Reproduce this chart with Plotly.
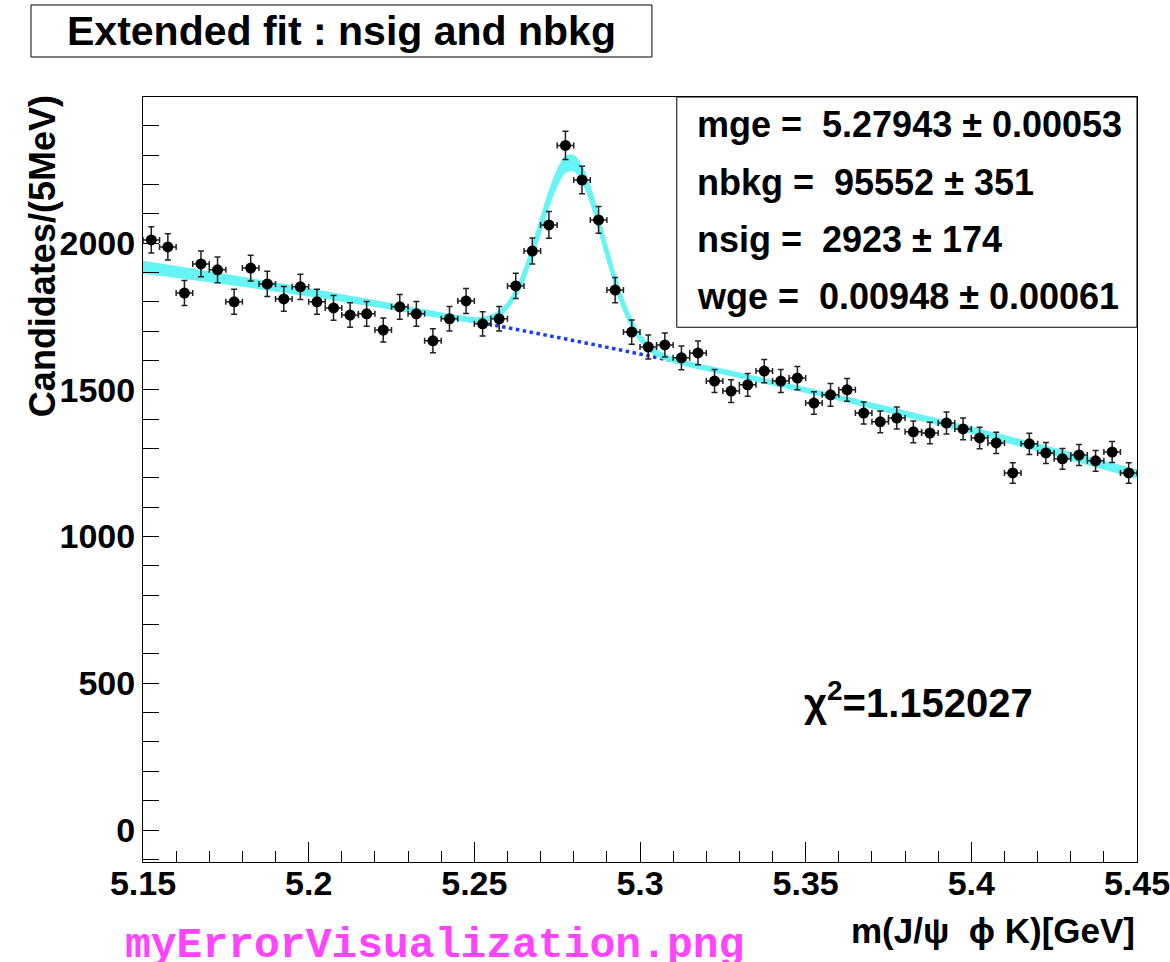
import numpy as np
import plotly.graph_objects as go

# ---------------- data ----------------
x_low = 5.15
bin_width = 0.005
counts = [2011, 1987, 1830, 1929, 1909, 1800, 1915, 1861, 1810, 1851,
          1800, 1779, 1755, 1759, 1704, 1783, 1759, 1667, 1742, 1803,
          1725, 1742, 1854, 1973, 2062, 2333, 2215, 2079, 1840, 1697,
          1646, 1653, 1609, 1626, 1530, 1496, 1517, 1564, 1530, 1540,
          1455, 1483, 1500, 1421, 1391, 1404, 1357, 1353, 1387, 1367,
          1336, 1319, 1217, 1316, 1285, 1265, 1278, 1258, 1288, 1217]
bin_centers = [round(x_low + bin_width * (i + 0.5), 4) for i in range(len(counts))]
count_err = list(np.sqrt(counts))

# total fit curve (centre of the cyan band) and band half-width
fit_x = [5.15, 5.175, 5.20, 5.225,
         5.2400, 5.2425, 5.2450, 5.2475, 5.2500, 5.2525, 5.2550, 5.2575,
         5.2600, 5.2625, 5.2650, 5.2675, 5.2700, 5.2725, 5.2750, 5.2775,
         5.2800, 5.2825, 5.2850, 5.2875, 5.2900, 5.2925, 5.2950, 5.2975,
         5.3000, 5.3025, 5.3050, 5.3075, 5.3100, 5.3125, 5.3150, 5.3175,
         5.3200, 5.325, 5.35, 5.375, 5.40, 5.425, 5.45]
fit_y = [1918, 1877, 1832, 1784,
         1754, 1749, 1745, 1741, 1738, 1739, 1745, 1759,
         1787, 1830, 1892, 1971, 2060, 2149, 2222, 2267,
         2272, 2236, 2165, 2071, 1969, 1872, 1790, 1726,
         1679, 1647, 1626, 1612, 1602, 1594, 1587, 1580,
         1574, 1562, 1499, 1432, 1362, 1289, 1213]
fit_hw = [22, 18, 14, 11,
          10, 10, 10, 10, 10, 10, 11, 12,
          14, 18, 24, 28, 31, 32, 31, 29,
          28, 29, 31, 32, 31, 28, 24, 19,
          15, 13, 12, 11, 10, 10, 10, 10,
          10, 10, 10, 11, 12, 14, 16]

# background component (blue dotted)
bkg_x = [5.15, 5.175, 5.20, 5.225, 5.25, 5.275, 5.30, 5.325, 5.35, 5.375, 5.40, 5.425, 5.45]
bkg_y = [1918, 1877, 1832, 1784, 1733, 1679, 1622, 1562, 1499, 1432, 1362, 1289, 1213]

x_tick_vals = [5.15, 5.20, 5.25, 5.30, 5.35, 5.40, 5.45]
x_tick_text = ["5.15", "5.2", "5.25", "5.3", "5.35", "5.4", "5.45"]
y_tick_vals = [0, 500, 1000, 1500, 2000]
y_tick_text = ["0", "500", "1000", "1500", "2000"]

param_lines = ["mge =  5.27943 \u00b1 0.00053",
               "nbkg =  95552 \u00b1 351",
               "nsig =  2923 \u00b1 174",
               "wge =  0.00948 \u00b1 0.00061"]

# ---------------- figure ----------------
FONT = "Liberation Sans, Arial, Helvetica, sans-serif"
fig = go.Figure()

fig.add_trace(go.Scatter(x=bkg_x, y=bkg_y, mode="lines",
                         line=dict(color="#1a3cff", width=3.5, dash="dot", shape="spline"),
                         hoverinfo="skip", showlegend=False))

lower = [y - h for y, h in zip(fit_y, fit_hw)]
upper = [y + h for y, h in zip(fit_y, fit_hw)]
fig.add_trace(go.Scatter(x=fit_x, y=lower, mode="lines",
                         line=dict(width=0, shape="spline"), hoverinfo="skip", showlegend=False))
fig.add_trace(go.Scatter(x=fit_x, y=upper, mode="lines", fill="tonexty",
                         fillcolor="#66f4f4",
                         line=dict(width=0, shape="spline"), hoverinfo="skip", showlegend=False))

fig.add_trace(go.Scatter(x=bin_centers, y=counts, mode="markers",
                         marker=dict(color="black", size=11),
                         error_y=dict(type="data", array=count_err, color="#222222",
                                      thickness=1.5, width=3),
                         error_x=dict(type="constant", value=bin_width / 2, color="#222222",
                                      thickness=1.5, width=3),
                         showlegend=False))

# parameter box
fig.add_shape(type="rect", xref="paper", yref="paper", x0=0.537, x1=1.0, y0=0.699, y1=1.0,
              line=dict(color="black", width=1), fillcolor="white", layer="below")
row_y = [0.9647, 0.8876, 0.8131, 0.7386]
for txt, yy in zip(param_lines, row_y):
    fig.add_annotation(xref="paper", yref="paper", x=0.555, y=yy, text=txt, showarrow=False,
                       xanchor="left", yanchor="middle",
                       font=dict(family=FONT, size=36, color="black", weight="bold"))

# title box
fig.add_shape(type="rect", xref="paper", yref="paper", x0=-0.1127, x1=0.512, y0=1.0523, y1=1.1203,
              line=dict(color="black", width=1), fillcolor="white")
fig.add_annotation(xref="paper", yref="paper", x=0.2002, y=1.0863,
                   text="Extended fit : nsig and nbkg", showarrow=False,
                   xanchor="center", yanchor="middle",
                   font=dict(family=FONT, size=41, color="black", weight="bold"))

# chi2
fig.add_annotation(xref="paper", yref="paper", x=0.663, y=0.2118,
                   text="\u03c7<sup>2</sup>=1.152027", showarrow=False,
                   xanchor="left", yanchor="middle",
                   font=dict(family=FONT, size=40, color="black", weight="bold"))

# axis titles
fig.add_annotation(xref="paper", yref="paper", x=1.0, y=-0.0889,
                   text="m(J/\u03c8  \u03d5 K)[GeV]", showarrow=False,
                   xanchor="right", yanchor="middle",
                   font=dict(family=FONT, size=35, color="black", weight="bold"))
fig.add_annotation(xref="paper", yref="paper", x=-0.1016, y=0.792,
                   text="Candidates/(5MeV)", showarrow=False, textangle=-90,
                   xanchor="center", yanchor="middle",
                   font=dict(family=FONT, size=36, color="black", weight="bold"))

# file-name label
fig.add_annotation(xref="paper", yref="paper", x=-0.0201, y=-0.1085,
                   text="myErrorVisualization.png", showarrow=False,
                   xanchor="left", yanchor="middle",
                   font=dict(family="Liberation Mono, Courier New, monospace", size=43,
                             color="#ff44ff", weight="bold"))

tickfont = dict(family=FONT, size=34, color="black", weight="bold")
fig.update_xaxes(range=[5.15, 5.45], tickmode="array", tickvals=x_tick_vals, ticktext=x_tick_text,
                 ticks="inside", ticklen=20, tickwidth=1, tickcolor="black",
                 minor=dict(tick0=5.15, dtick=0.01, ticks="inside", ticklen=11, tickcolor="black"),
                 showline=True, linecolor="black", linewidth=1, mirror=True,
                 showgrid=False, zeroline=False, tickfont=tickfont,
                 ticklabeloverflow="allow", ticklabelstandoff=-9)
fig.update_yaxes(range=[-109, 2498], tickmode="array", tickvals=y_tick_vals, ticktext=y_tick_text,
                 ticks="inside", ticklen=16, tickwidth=1, tickcolor="black",
                 minor=dict(tick0=0, dtick=100, ticks="inside", ticklen=16, tickcolor="black"),
                 showline=True, linecolor="black", linewidth=1, mirror=True,
                 showgrid=False, zeroline=False, tickfont=tickfont)

fig.update_layout(width=1170, height=962,
                  margin=dict(l=143, r=33, t=97, b=100, pad=0, autoexpand=False),
                  paper_bgcolor="white", plot_bgcolor="white",
                  showlegend=False)

fig.write_html("out.html",
               config={"displayModeBar": False},
               post_script="document.body.style.margin='0px';"
                           "document.body.style.overflow='hidden';"
                           "document.documentElement.style.overflow='hidden';")
